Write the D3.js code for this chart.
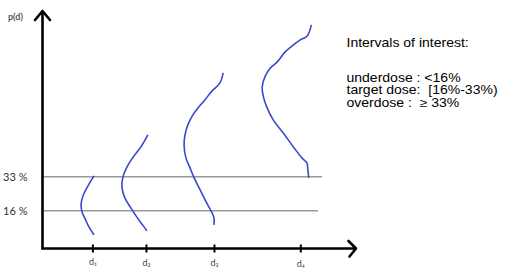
<!DOCTYPE html>
<html>
<head>
<meta charset="utf-8">
<script src="https://cdn.jsdelivr.net/npm/d3@7"></script>
<style>
  html, body { margin: 0; padding: 0; background: #fff; overflow: hidden; }
</style>
</head>
<body>
<div id="chart"></div>
<script>
// Dose levels on the x axis
const doseLabels = ['d\u2081', 'd\u2082', 'd\u2083', 'd\u2084'];
const dosePositions = [16, 33, 54.6, 82];

// Toxicity thresholds (p(d), in %) and how far their guide lines run
const thresholds = [16, 33];
const thresholdLabels = ['16 %', '33 %'];
const thresholdEnds = [87.6, 88.9];

// Hand-drawn posterior densities, one per dose: [p(d) %, sideways offset from the dose]
const curveD1 = [[33.4, 0.5], [28.4, -1.4], [23.4, -3.0], [18.9, -3.6], [15.4, -3.3],
  [11.9, -2.3], [7.9, -1.1], [3.9, 0.5]];
const curveD2 = [[53.9, 0.6], [47.9, -1.6], [43.4, -3.8], [37.9, -6.0], [32.9, -7.3],
  [27.4, -7.6], [22.4, -6.7], [17.4, -4.8], [11.9, -2.5], [7.9, -0.6], [5.9, 0.3]];
const curveD3 = [[84.9, 2.9], [79.9, 1.9], [75.9, -0.6], [71.4, -2.9], [67.4, -5.1],
  [63.9, -6.7], [58.9, -8.3], [53.9, -9.2], [48.9, -9.5], [42.4, -8.9], [37.4, -7.6],
  [32.4, -6.3], [26.4, -4.4], [20.4, -2.5], [14.9, -0.6], [12.4, 0], [8.9, 0]];
const curveD4 = [[108.9, 3.5], [103.4, 2.2], [101.4, 0], [98.9, -2.2], [95.4, -4.8],
  [90.4, -7.3], [87.4, -9.5], [83.4, -11.1], [77.9, -12.1], [72.9, -11.7], [68.4, -10.8],
  [61.4, -8.6], [54.9, -5.4], [47.9, -2.2], [42.4, 0.5], [39.9, 2.1], [36.4, 2.4], [32.4, 2.7]];
const curves = [curveD1, curveD2, curveD3, curveD4];

// Text box on the right
const noteTitle = 'Intervals of interest:';
const noteLines = ['underdose : <16%', 'target dose:  [16%-33%)', 'overdose :  \u2265 33%'];

const width = 508, height = 270;
const axisX = 42.5, axisY = 248.5;

const x = d3.scaleLinear().domain([0, 100]).range([42, 357]);
const y = d3.scaleLinear().domain([0, 115]).range([242.7, 12.7]);

const svg = d3.select('#chart').append('svg')
  .attr('width', width)
  .attr('height', height)
  .style('display', 'block');

// threshold guide lines
svg.append('g')
  .selectAll('line')
  .data(thresholds)
  .join('line')
  .attr('x1', axisX)
  .attr('x2', (d, i) => x(thresholdEnds[i]))
  .attr('y1', d => y(d))
  .attr('y2', d => y(d))
  .attr('stroke', '#999')
  .attr('stroke-width', 1.4);

// y tick labels
svg.append('g')
  .attr('transform', `translate(${axisX},0)`)
  .call(d3.axisLeft(y).tickValues(thresholds)
    .tickFormat((d, i) => thresholdLabels[i]).tickSize(0).tickPadding(15))
  .call(g => g.select('.domain').remove())
  .call(g => g.selectAll('text')
    .attr('fill', '#333')
    .style('font', "11px Lato, 'Liberation Sans', Arial, sans-serif"));

// x axis ticks and dose labels
svg.append('g')
  .attr('transform', `translate(0,${axisY})`)
  .call(d3.axisBottom(x).tickValues(dosePositions)
    .tickFormat((d, i) => doseLabels[i]).tickSize(4).tickPadding(6))
  .call(g => g.select('.domain').remove())
  .call(g => g.selectAll('.tick line').attr('y1', -4).attr('stroke', '#000').attr('stroke-width', 2))
  .call(g => g.selectAll('text')
    .attr('fill', '#444')
    .attr('dy', (d, i) => `${0.71 + i * 0.08}em`)
    .style('font', "9px Lato, 'Liberation Sans', Arial, sans-serif"));

// axes with arrow heads
const axes = svg.append('g')
  .attr('fill', 'none')
  .attr('stroke', '#000')
  .attr('stroke-width', 2.6)
  .attr('stroke-linecap', 'round')
  .attr('stroke-linejoin', 'round');
axes.append('path').attr('d', `M${axisX},${axisY}V11M35,20L${axisX},11L50,20`);
axes.append('path').attr('d', `M${axisX},${axisY}H356M348.5,241L356,${axisY}L349.5,256.5`);

svg.append('text')
  .attr('x', 8)
  .attr('y', 20)
  .attr('fill', '#555')
  .style('font', "bold 9px Lato, 'Liberation Sans', Arial, sans-serif")
  .text('p(d)');

// density curves
const line = d3.line()
  .x(d => x(d.dose + d[1]))
  .y(d => y(d[0]))
  .curve(d3.curveCatmullRom);

svg.append('g')
  .selectAll('path')
  .data(curves.map((c, i) => c.map(p => Object.assign([p[0], p[1]], { dose: dosePositions[i] }))))
  .join('path')
  .attr('d', line)
  .attr('fill', 'none')
  .attr('stroke', '#3a48cc')
  .attr('stroke-width', 1.6);

// note text
const note = svg.append('g')
  .attr('transform', 'translate(346.5,0) scale(1.15,1)')
  .attr('fill', '#000')
  .style('font', "12.2px 'Liberation Sans', Arial, sans-serif");
note.append('text').attr('y', 47.5).text(noteTitle);
note.selectAll('text.line')
  .data(noteLines)
  .join('text')
  .attr('class', 'line')
  .attr('xml:space', 'preserve')
  .style('white-space', 'pre')
  .attr('y', (d, i) => 81.8 + i * 12.5)
  .text(d => d);
</script>
</body>
</html>
